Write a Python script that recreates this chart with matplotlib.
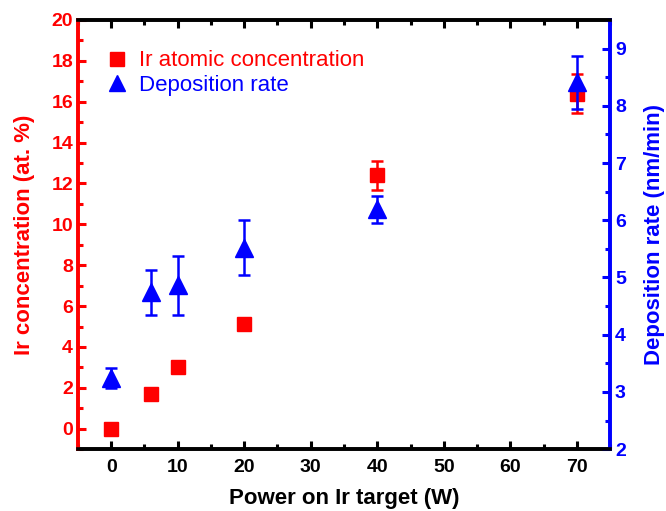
import matplotlib
matplotlib.use("Agg")
import matplotlib.pyplot as plt
from matplotlib.ticker import MultipleLocator
from matplotlib.lines import Line2D

plt.rcParams['font.family'] = ['Liberation Sans', 'DejaVu Sans']

# Datos
power = [0, 6, 10, 20, 40, 70]
ir_conc = [0.0, 1.7, 3.0, 5.1, 12.4, 16.4]
ir_err = [0.0, 0.0, 0.0, 0.0, 0.7, 0.95]
dep_rate = [3.24, 4.74, 4.86, 5.52, 6.19, 8.41]
dep_err = [0.17, 0.39, 0.52, 0.48, 0.24, 0.46]

RED = '#ff0000'
BLUE = '#0000ff'

fig = plt.figure(figsize=(6.66, 5.11), dpi=100)
ax = fig.add_axes([0.117, 0.121, 0.799, 0.840])
ax2 = ax.twinx()

# Concentración de Ir (eje izquierdo)
ax.errorbar(power, ir_conc, yerr=ir_err, fmt='s', color=RED, markersize=10.5,
            ecolor=RED, elinewidth=1.8, capsize=4.5, capthick=1.8,
            label='Ir atomic concentration', zorder=3)
# Tasa de deposición (eje derecho)
ax2.errorbar(power, dep_rate, yerr=dep_err, fmt='^', color=BLUE, markersize=13,
             ecolor=BLUE, elinewidth=1.8, capsize=4.5, capthick=1.8,
             label='Deposition rate', zorder=3)

ax.set_xlim(-5, 75)
ax.set_ylim(-1, 20)
ax2.set_ylim(2, 9.5)

ax.xaxis.set_major_locator(MultipleLocator(10))
ax.xaxis.set_minor_locator(MultipleLocator(5))
ax.yaxis.set_major_locator(MultipleLocator(2))
ax.yaxis.set_minor_locator(MultipleLocator(1))
ax2.yaxis.set_major_locator(MultipleLocator(1))
ax2.yaxis.set_minor_locator(MultipleLocator(0.5))

lw = 2.6
for a in (ax, ax2):
    for s in a.spines.values():
        s.set_linewidth(lw)
    a.spines['top'].set_color('black')
    a.spines['bottom'].set_color('black')
    a.spines['left'].set_color(RED)
    a.spines['right'].set_color(BLUE)

ax.tick_params(axis='x', which='both', direction='in', top=True, width=2.2,
               labelsize=14, pad=7)
ax.tick_params(axis='x', which='major', length=6)
ax.tick_params(axis='x', which='minor', length=3.5)
ax.tick_params(axis='y', which='both', direction='in', colors=RED, width=2.2,
               labelsize=14)
ax.tick_params(axis='y', which='major', length=6)
ax.tick_params(axis='y', which='minor', length=3.5)
ax2.tick_params(axis='y', which='both', direction='in', colors=BLUE, width=2.2,
                labelsize=14)
ax2.tick_params(axis='y', which='major', length=6)
ax2.tick_params(axis='y', which='minor', length=3.5)

for lab in ax.get_xticklabels() + ax.get_yticklabels() + ax2.get_yticklabels():
    lab.set_fontweight('bold')

ax.set_xlabel('Power on Ir target (W)', fontsize=16, fontweight='bold', labelpad=9)
ax.set_ylabel('Ir concentration (at. %)', fontsize=16, fontweight='bold',
              color=RED, labelpad=12)
ax2.set_ylabel('Deposition rate (nm/min)', fontsize=16, fontweight='bold',
               color=BLUE, labelpad=13)

handles = [Line2D([], [], marker='s', color=RED, linestyle='', markersize=10),
           Line2D([], [], marker='^', color=BLUE, linestyle='', markersize=12)]
labels = ['Ir atomic concentration', 'Deposition rate']
leg = ax2.legend(handles, labels, loc='upper left', bbox_to_anchor=(0.035, 0.95),
                 borderaxespad=0, frameon=False, fontsize=16, handlelength=1.0,
                 handletextpad=0.5, labelspacing=0.15)
leg.get_texts()[0].set_color(RED)
leg.get_texts()[1].set_color(BLUE)

fig.savefig('out.png', dpi=100)
